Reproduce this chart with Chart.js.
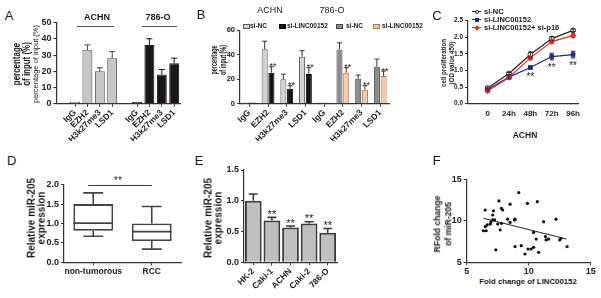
<!DOCTYPE html>
<html>
<head>
<meta charset="utf-8">
<title>LINC00152 / miR-205 figure</title>
<script src="https://cdn.jsdelivr.net/npm/chart.js@4.4.0/dist/chart.umd.min.js"></script>
<style>
  html, body { margin: 0; padding: 0; background: #fff; }
  #fig { position: relative; width: 601px; height: 298px; overflow: hidden;
         font-family: "Liberation Sans", Arial, sans-serif; color: #1a1a1a; }
  #fig canvas { position: absolute; }
  .t { position: absolute; white-space: pre; line-height: 1; }
  .c { transform: translate(-50%, -50%); text-align: center; }
  .b { font-weight: bold; }
  .hl { position: absolute; height: 0; border-top: 1px solid #555; }
  .sw { position: absolute; width: 5px; height: 3px; border: 1px solid #555; }
</style>
</head>
<body>
<div id="fig"></div>
<script>
// ---- data ----

// A: ChIP, percentage of input
const targetsA = ['IgG', 'EZH2', 'H3k27me3', 'LSD1'];
const achnA = [1.2, 33, 20, 28];
const achnErrA = [0, 3.3, 2.2, 4.1];
const o786A = [1.2, 36.3, 18, 25];
const o786ErrA = [0, 3.8, 3.1, 3.1];

// B: ChIP after knockdown
const targetsB = ['IgG', 'EZH2', 'H3k27me3', 'LSD1'];
const seriesB = ['si-NC', 'si-LINC00152', 'si-NC', 'si-LINC00152'];
const achnNC = [1, 44.5, 20, 38.4];
const achnNCErr = [0, 6.6, 4.1, 4.9];
const achnSi = [1, 25.3, 12.2, 24.2];
const achnSiErr = [0, 4.9, 2.5, 5.2];
const o786NC = [1, 44.4, 20.4, 30.2];
const o786NCErr = [0, 5.4, 3, 6.3];
const o786Si = [1, 25.3, 11.4, 22.6];
const o786SiErr = [0, 4.1, 3.3, 4.1];
const starsB = ['', '**', '**', '**'];

// C: proliferation (ACHN)
const timeC = ['0', '24h', '48h', '72h', '96h'];
const seriesC = ['si-NC', 'si-LINC00152', 'si-LINC00152+ si-p16'];
const ncC = [0.47, 0.91, 1.48, 1.96, 2.21];
const ncErrC = [0.03, 0.03, 0.08, 0.06, 0.04];
const siC = [0.43, 0.80, 1.09, 1.42, 1.48];
const siErrC = [0.03, 0.04, 0.04, 0.10, 0.10];
const p16C = [0.38, 0.79, 1.38, 1.87, 2.05];
const p16ErrC = [0.04, 0.06, 0.06, 0.06, 0.06];
const starsC = ['', '', '**', '**', '**'];

// D: box plot
const groupsD = ['non-tumorous', 'RCC'];
const minD = [0.67, 0.34];
const q1D = [0.81, 0.55];
const medD = [1.01, 0.79];
const q3D = [1.50, 1.00];
const maxD = [1.79, 1.44];
const sigD = 1.98;

// E: cell lines
const cellsE = ['HK-2', 'Caki-1', 'ACHN', 'Caki-2', '786-O'];
const mirE = [1.0, 0.68, 0.565, 0.63, 0.48];
const mirErrE = [0.11, 0.05, 0.025, 0.03, 0.07];
const starsE = ['', '**', '**', '**', '**'];

// F: correlation
const lincF = [6.49, 6.35, 6.57, 6.5, 6.65, 6.9, 6.95, 7.1, 7.16, 7.1, 7.25, 7.35, 7.5, 7.6, 7.7,
  7.8, 7.9, 7.8, 8.3, 8.5, 8.5, 8.85, 8.9, 8.9, 9.2, 9.4, 9.7, 9.9, 9.95, 10.2, 10.4, 10.4,
  10.6, 10.7, 10.8, 11.2, 11.35, 11.4, 11.6, 12.2, 12.5, 12.6, 13.1];
const mirF = [11.3, 8.8, 8.8, 9.3, 9.5, 9.6, 9.85, 10.7, 11.2, 10.1, 10.1, 6.5, 9.6, 12.4, 8.9,
  11.5, 11.3, 9.7, 10.2, 12.0, 9.8, 10.1, 10.2, 6.9, 13.4, 7.0, 6.0, 12.1, 6.6, 6.6, 6.8, 8.6,
  7.8, 12.3, 6.2, 9.9, 8.1, 7.7, 7.8, 10.2, 7.7, 7.9, 6.9];
const fitX = [6.35, 13.05];
const fitY = [10.3, 7.8];

// ---- helpers ----
const FONT = '"Liberation Sans", Arial, sans-serif';
Chart.defaults.font.family = FONT;
Chart.defaults.color = '#222';
Chart.defaults.animation = false;
Chart.defaults.plugins.legend.display = false;
Chart.defaults.plugins.tooltip.enabled = false;

const fig = document.getElementById('fig');

function txt(s, x, y, size, opts = {}) {
  const d = document.createElement('div');
  d.className = 't c' + (opts.bold ? ' b' : '');
  d.textContent = s;
  d.style.left = x + 'px';
  d.style.top = y + 'px';
  d.style.fontSize = size + 'px';
  if (opts.lh) d.style.lineHeight = opts.lh + 'px';
  let tr = 'translate(-50%, -50%)';
  if (opts.rot) tr += ' rotate(-90deg)';
  if (opts.sx) tr += ' scaleX(' + opts.sx + ')';
  d.style.transform = tr;
  fig.appendChild(d);
  return d;
}

function ltxt(s, x, y, size, bold) {
  const d = document.createElement('div');
  d.className = 't' + (bold ? ' b' : '');
  d.textContent = s;
  d.style.left = x + 'px';
  d.style.top = y + 'px';
  d.style.fontSize = size + 'px';
  d.style.transform = 'translateY(-50%)';
  fig.appendChild(d);
  return d;
}

function hline(x0, x1, y) {
  const d = document.createElement('div');
  d.className = 'hl';
  d.style.left = x0 + 'px';
  d.style.width = (x1 - x0) + 'px';
  d.style.top = y + 'px';
  fig.appendChild(d);
  return d;
}

// canvas rect and desired chart area, both [left, top, right, bottom]
function mk(rect, area) {
  const c = document.createElement('canvas');
  const w = rect[2] - rect[0], h = rect[3] - rect[1];
  c.width = w; c.height = h;
  Object.assign(c.style, { left: rect[0] + 'px', top: rect[1] + 'px', width: w + 'px', height: h + 'px' });
  fig.appendChild(c);
  return {
    canvas: c,
    padding: { top: area[1] - rect[1], right: rect[2] - area[2], left: 0, bottom: 0 },
    yW: area[0] - rect[0],
    xH: rect[3] - area[3]
  };
}

function yAxis(p, min, max, step, size, dec) {
  return {
    min, max,
    ticks: { stepSize: step, font: { size, weight: 'bold' }, color: '#222', padding: 2,
             callback: v => dec ? v.toFixed(dec) : v },
    grid: { drawOnChartArea: false, tickLength: 3, color: '#333' },
    border: { color: '#333', width: 1.2 },
    afterFit: s => { s.width = p.yW; s.paddingTop = 0; s.paddingBottom = 0; }
  };
}

function xCat(p, size, rot, labels) {
  return {
    type: 'category', offset: true,
    ticks: { font: { size, weight: 'bold' }, color: '#222', padding: 1, autoSkip: false,
             maxRotation: rot, minRotation: rot },
    grid: { drawOnChartArea: false, tickLength: 3, offset: false,
            color: c => (labels && !labels[c.index]) ? 'rgba(0,0,0,0)' : '#333' },
    border: { color: '#333', width: 1.2 },
    afterFit: s => { s.height = p.xH; s.paddingLeft = 0; s.paddingRight = 0; }
  };
}

// error bars (one or two sided) and significance stars
const errorBars = {
  id: 'errorBars',
  afterDatasetsDraw(chart) {
    const { ctx } = chart;
    const y = chart.scales.y;
    chart.data.datasets.forEach((ds, i) => {
      if (!ds.errors) return;
      const meta = chart.getDatasetMeta(i);
      ctx.save();
      ctx.strokeStyle = ds.errColor || '#222';
      ctx.lineWidth = ds.errWidth || 1;
      meta.data.forEach((el, j) => {
        const raw = ds.data[j];
        if (raw == null) return;
        const v = typeof raw === 'object' ? raw.y : raw;
        const e = ds.errors[j] || 0;
        const cap = ds.capHalf || 2.5;
        const hi = y.getPixelForValue(v + e);
        const lo = ds.twoSided ? y.getPixelForValue(v - e) : el.y;
        if (e > 0) {
          ctx.beginPath();
          ctx.moveTo(el.x, lo); ctx.lineTo(el.x, hi);
          ctx.moveTo(el.x - cap, hi); ctx.lineTo(el.x + cap, hi);
          if (ds.twoSided) { ctx.moveTo(el.x - cap, lo); ctx.lineTo(el.x + cap, lo); }
          ctx.stroke();
        }
        if (ds.stars && ds.stars[j]) {
          ctx.fillStyle = '#222';
          ctx.font = (ds.starSize || 9) + 'px ' + FONT;
          ctx.textAlign = 'center';
          ctx.textBaseline = 'alphabetic';
          const sy = (ds.starsBelow ? lo : hi) + (ds.starDy || 0);
          ctx.fillText(ds.stars[j], el.x + (ds.starDx || 0), sy);
        }
      });
      ctx.restore();
    });
  }
};

// whiskers + median for the floating-bar boxes, plus the bracket on top
const boxWhiskers = {
  id: 'boxWhiskers',
  afterDatasetsDraw(chart) {
    const { ctx } = chart;
    const { x, y } = chart.scales;
    const ds = chart.data.datasets[0];
    const meta = chart.getDatasetMeta(0);
    ctx.save();
    ctx.strokeStyle = ds.borderColor;
    ctx.lineWidth = 1.6;
    meta.data.forEach((el, j) => {
      const half = el.width / 2;
      const cx = el.x;
      const pMed = y.getPixelForValue(ds.medians[j]);
      const pQ1 = y.getPixelForValue(ds.data[j][0]);
      const pQ3 = y.getPixelForValue(ds.data[j][1]);
      const pMin = y.getPixelForValue(ds.mins[j]);
      const pMax = y.getPixelForValue(ds.maxs[j]);
      const cap = half * 0.5;
      ctx.beginPath();
      ctx.moveTo(cx - half, pMed); ctx.lineTo(cx + half, pMed);
      ctx.moveTo(cx, pQ3); ctx.lineTo(cx, pMax);
      ctx.moveTo(cx - cap, pMax); ctx.lineTo(cx + cap, pMax);
      ctx.moveTo(cx, pQ1); ctx.lineTo(cx, pMin);
      ctx.moveTo(cx - cap, pMin); ctx.lineTo(cx + cap, pMin);
      ctx.stroke();
    });
    // significance bracket
    const sy = y.getPixelForValue(ds.sig);
    const x0 = x.getPixelForValue(0) - 5, x1 = x.getPixelForValue(1);
    ctx.lineWidth = 1;
    ctx.strokeStyle = '#333';
    ctx.beginPath();
    ctx.moveTo(x0, sy); ctx.lineTo(x1, sy);
    ctx.stroke();
    ctx.fillStyle = '#222';
    ctx.font = '10px ' + FONT;
    ctx.textAlign = 'center';
    ctx.fillText('**', (x0 + x1) / 2 - 2, sy - 1);
    ctx.restore();
  }
};

function padArr(arr, before, after) {
  return Array(before).fill(null).concat(arr, Array(after).fill(null));
}

// ---- Panel A ----
{
  const p = mk([40, 14, 184, 141], [56.4, 22.7, 180.4, 103.7]);
  const labelsA = [''].concat(targetsA, [''], targetsA);
  new Chart(p.canvas, {
    type: 'bar',
    data: {
      labels: labelsA,
      datasets: [
        { data: padArr(achnA, 1, 5), errors: padArr(achnErrA, 1, 5), backgroundColor: '#c6c6c6',
          borderColor: '#4a4a4a', borderWidth: 1, skipNull: true, errColor: '#444', capHalf: 3 },
        { data: padArr(o786A, 6, 0), errors: padArr(o786ErrA, 6, 0), backgroundColor: '#1c1614',
          borderColor: '#111', borderWidth: 1, skipNull: true, errColor: '#111', capHalf: 3 }
      ]
    },
    options: {
      responsive: false,
      layout: { padding: p.padding },
      datasets: { bar: { categoryPercentage: 1, barPercentage: 0.8 } },
      scales: { x: xCat(p, 8.5, 45, labelsA), y: yAxis(p, 0, 50, 10, 9) }
    },
    plugins: [errorBars]
  });
  txt('A', 9, 15, 13);
  txt('ACHN', 97, 17, 9, { bold: true });
  txt('786-O', 158, 17, 9, { bold: true });
  hline(77, 114, 25.5);
  hline(142, 177, 25.5);
  txt('percentage\nof input (%)', 21.2, 63.5, 11, { rot: true, bold: true, lh: 10, sx: 0.72 });
  txt('percentage of input (%)', 36.3, 63.7, 7.5, { rot: true });
}

// ---- Panel B ----
{
  const p = mk([224, 22, 392, 141], [240, 30.3, 389.6, 103.7]);
  const common = { skipNull: true, borderWidth: 1, capHalf: 2.5, errColor: '#333' };
  new Chart(p.canvas, {
    type: 'bar',
    data: {
      labels: targetsB.concat(targetsB),
      datasets: [
        Object.assign({ data: padArr(achnNC, 0, 4), errors: padArr(achnNCErr, 0, 4),
          backgroundColor: '#d2d2d2', borderColor: '#555' }, common),
        Object.assign({ data: padArr(achnSi, 0, 4), errors: padArr(achnSiErr, 0, 4),
          backgroundColor: '#141414', borderColor: '#000' }, common,
          { stars: padArr(starsB, 0, 4), starSize: 9, starDy: 2.6, starDx: 1.5 }),
        Object.assign({ data: padArr(o786NC, 4, 0), errors: padArr(o786NCErr, 4, 0),
          backgroundColor: '#8c8c8c', borderColor: '#444' }, common),
        Object.assign({ data: padArr(o786Si, 4, 0), errors: padArr(o786SiErr, 4, 0),
          backgroundColor: '#f5c8a8', borderColor: '#a87858' }, common,
          { stars: padArr(starsB, 4, 0), starSize: 9, starDy: 2.6, starDx: 1.5 })
      ]
    },
    options: {
      responsive: false,
      layout: { padding: p.padding },
      datasets: { bar: { categoryPercentage: 0.72, barPercentage: 0.9 } },
      scales: { x: xCat(p, 8.5, 45), y: yAxis(p, 0, 60, 20, 7.5) }
    },
    plugins: [errorBars]
  });
  txt('B', 201, 14, 13);
  txt('ACHN', 270, 9.7, 9);
  txt('786-O', 332, 10, 9);
  txt('percentage\nof input (%)', 219, 60, 8.5, { rot: true, bold: true, lh: 9.3, sx: 0.64 });
  const swB = [['#d2d2d2', '#555', 243, 250], ['#141414', '#000', 279, 287],
               ['#8c8c8c', '#444', 336, 346], ['#f5c8a8', '#a87858', 373, 382]];
  swB.forEach((s, i) => {
    const d = document.createElement('div');
    d.className = 'sw';
    d.style.background = s[0];
    d.style.borderColor = s[1];
    d.style.left = s[2] + 'px';
    d.style.top = '24px';
    fig.appendChild(d);
    ltxt(seriesB[i], s[3], 26.3, 6.5, true);
  });
}

// ---- Panel C ----
{
  const p = mk([454, 14, 584, 124], [468, 20.7, 578, 103.7]);
  const pts = arr => arr.map((v, i) => ({ x: i, y: v }));
  const line = { borderWidth: 1.2, pointRadius: 2.4, twoSided: true, capHalf: 2.2, errWidth: 1 };
  new Chart(p.canvas, {
    type: 'line',
    data: {
      datasets: [
        Object.assign({ data: pts(ncC), errors: ncErrC, borderColor: '#222', errColor: '#222',
          pointStyle: 'circle', pointBackgroundColor: '#fff', pointBorderColor: '#222', pointBorderWidth: 1 }, line),
        Object.assign({ data: pts(p16C), errors: p16ErrC, borderColor: '#e2312c', errColor: '#e2312c',
          pointStyle: 'rectRot', pointBackgroundColor: '#e2312c', pointBorderColor: '#e2312c' }, line),
        Object.assign({ data: pts(siC), errors: siErrC, borderColor: '#1f2a7a', errColor: '#1f2a7a',
          pointStyle: 'rect', pointBackgroundColor: '#1f2a7a', pointBorderColor: '#1f2a7a',
          stars: starsC, starsBelow: true, starDy: 11.5, starSize: 10 }, line)
      ]
    },
    options: {
      responsive: false,
      layout: { padding: p.padding },
      scales: {
        x: {
          type: 'linear', min: -0.92, max: 4.23,
          afterBuildTicks: s => { s.ticks = timeC.map((t, i) => ({ value: i })); },
          ticks: { callback: v => timeC[v], font: { size: 8, weight: 'bold' }, color: '#222', padding: 5 },
          grid: { drawOnChartArea: false, drawTicks: false },
          border: { color: '#333', width: 1.2 },
          afterFit: s => { s.height = p.xH; s.paddingLeft = 0; s.paddingRight = 0; }
        },
        y: yAxis(p, 0, 2.5, 0.5, 6.5, 1)
      }
    },
    plugins: [errorBars]
  });
  txt('C', 437, 15, 13);
  txt('cell proliferation\n(OD value 450)', 446.7, 63.3, 8, { rot: true, bold: true, lh: 7.5, sx: 0.77 });
  txt('ACHN', 525, 135, 8.5, { bold: true });
  const legC = [
    { c: '#222', y: 12, m: 'circle' },
    { c: '#1f2a7a', y: 19.5, m: 'rect' },
    { c: '#e2312c', y: 27.5, m: 'diamond' }
  ];
  legC.forEach((l, i) => {
    hline(472, 481, l.y - 0.6).style.borderTop = '1.2px solid ' + l.c;
    const m = document.createElement('div');
    m.style.position = 'absolute';
    m.style.left = '474.5px';
    m.style.top = (l.y - 2) + 'px';
    m.style.width = '4px';
    m.style.height = '4px';
    m.style.boxSizing = 'border-box';
    if (l.m === 'circle') {
      m.style.borderRadius = '50%'; m.style.background = '#fff'; m.style.border = '1px solid ' + l.c;
    } else {
      m.style.background = l.c;
      if (l.m === 'diamond') m.style.transform = 'rotate(45deg)';
    }
    fig.appendChild(m);
    ltxt(seriesC[i], 484, l.y, 7.5, true);
  });
}

// ---- Panel D ----
{
  const p = mk([42, 170, 185, 291], [64, 184.7, 181, 262.3]);
  new Chart(p.canvas, {
    type: 'bar',
    data: {
      labels: groupsD,
      datasets: [{
        data: q1D.map((q, i) => [q, q3D[i]]),
        medians: medD, mins: minD, maxs: maxD, sig: sigD,
        backgroundColor: '#fff', borderColor: '#444', borderWidth: 1.8, borderSkipped: false
      }]
    },
    options: {
      responsive: false,
      layout: { padding: p.padding },
      datasets: { bar: { categoryPercentage: 1, barPercentage: 0.68 } },
      scales: { x: xCat(p, 8.5, 0), y: yAxis(p, 0, 2, 0.5, 9, 1) }
    },
    plugins: [boxWhiskers]
  });
  txt('D', 11.7, 160, 13);
  txt('Relative miR-205\nexpression', 37.3, 218, 10, { rot: true, bold: true, lh: 10.3 });
}

// ---- Panel E ----
{
  const p = mk([222, 163, 341, 298], [244, 170, 337, 262.3]);
  new Chart(p.canvas, {
    type: 'bar',
    data: {
      labels: cellsE,
      datasets: [{
        data: mirE, errors: mirErrE, stars: starsE, starSize: 11, starDy: 0.7,
        backgroundColor: '#bfbfbf', borderColor: '#3c3c3c', borderWidth: 2,
        errColor: '#3c3c3c', errWidth: 1.6, capHalf: 4.5
      }]
    },
    options: {
      responsive: false,
      layout: { padding: p.padding },
      datasets: { bar: { categoryPercentage: 1, barPercentage: 0.9 } },
      scales: { x: xCat(p, 8.5, 45), y: yAxis(p, 0, 1.5, 0.5, 9, 1) }
    },
    plugins: [errorBars]
  });
  txt('E', 199, 160, 13);
  txt('Relative miR-205\nexpression', 212.5, 218, 10, { rot: true, bold: true, lh: 9.5 });
}

// ---- Panel F ----
{
  const p = mk([448, 172, 598, 277], [466.7, 179.3, 590.7, 262.3]);
  new Chart(p.canvas, {
    type: 'scatter',
    data: {
      datasets: [
        { data: lincF.map((v, i) => ({ x: v, y: mirF[i] })), pointRadius: 1.6,
          pointBackgroundColor: '#111', pointBorderWidth: 0 },
        { type: 'line', data: fitX.map((v, i) => ({ x: v, y: fitY[i] })), borderColor: '#222',
          borderWidth: 1, pointRadius: 0 }
      ]
    },
    options: {
      responsive: false,
      layout: { padding: p.padding },
      scales: {
        x: {
          type: 'linear', min: 5, max: 15,
          ticks: { stepSize: 5, font: { size: 9, weight: 'bold' }, color: '#222', padding: 1 },
          grid: { drawOnChartArea: false, tickLength: 3, color: '#333' },
          border: { color: '#333', width: 1.2 },
          afterFit: s => { s.height = p.xH; s.paddingLeft = 0; s.paddingRight = 0; }
        },
        y: yAxis(p, 5, 15, 5, 9)
      }
    }
  });
  txt('F', 436.7, 160, 13);
  txt('RFold change\nof miR-205', 443, 223.5, 8.6, { rot: true, bold: true, lh: 10.8 });
  txt('Fold change of LINC00152', 528, 281.5, 7.8, { bold: true });
}
</script>
</body>
</html>
